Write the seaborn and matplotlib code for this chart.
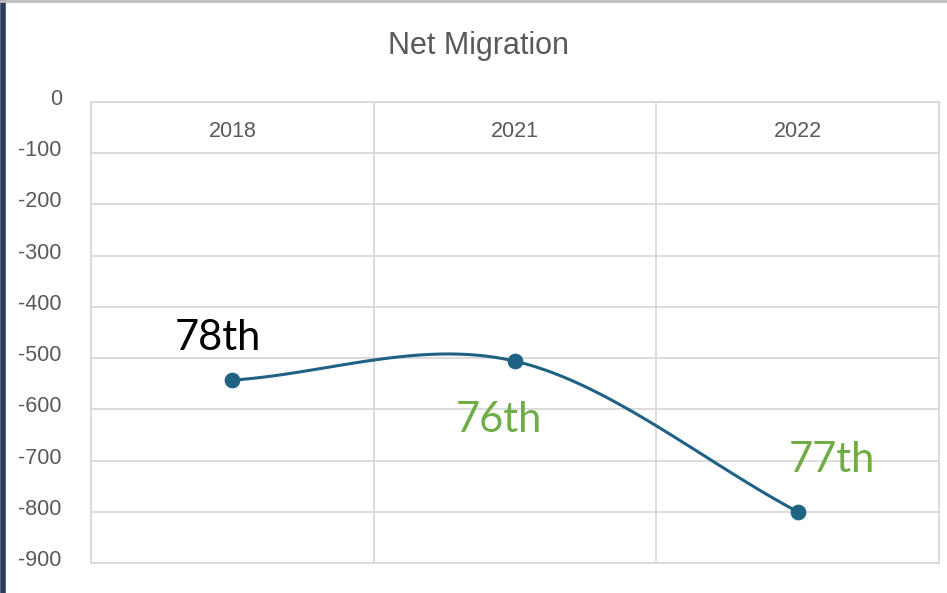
import numpy as np
import pandas as pd
import matplotlib
matplotlib.use('Agg')
import matplotlib.pyplot as plt
import matplotlib.transforms as mtransforms
from matplotlib.lines import Line2D
import seaborn as sns

# chart data
years = ['2018', '2021', '2022']
net_migration = [-543, -506, -800]
rank_labels = ['78th', '76th', '77th']
rank_colors = ['#000000', '#70AD47', '#70AD47']
y_ticks = [0, -100, -200, -300, -400, -500, -600, -700, -800, -900]

df = pd.DataFrame({'year': years, 'value': net_migration, 'pos': range(len(years))})

sns.set_style('white')
plt.rcParams['font.family'] = ['Liberation Sans Narrow', 'Liberation Sans', 'DejaVu Sans']

fig = plt.figure(figsize=(9.47, 5.93), dpi=100)
ax = fig.add_axes([0.0961, 0.0506, 0.8955, 0.7774])

line_col = '#1F6284'
grid_col = '#D9D9D9'
tick_col = '#595959'


# smoothed line like Excel's "smoothed line" option (Catmull-Rom through the points)
def smooth(xs, ys, n=60):
    xs = np.asarray(xs, float)
    ys = np.asarray(ys, float)
    out_x, out_y = [], []
    for i in range(len(xs) - 1):
        p0, p1 = ys[i], ys[i + 1]
        m0 = (ys[i + 1] - ys[i - 1]) / 2 if i > 0 else ys[i + 1] - ys[i]
        m1 = (ys[i + 2] - ys[i]) / 2 if i + 2 < len(ys) else ys[i + 1] - ys[i]
        t = np.linspace(0, 1, n)
        h00 = 2 * t**3 - 3 * t**2 + 1
        h10 = t**3 - 2 * t**2 + t
        h01 = -2 * t**3 + 3 * t**2
        h11 = t**3 - t**2
        out_x.append(xs[i] + t * (xs[i + 1] - xs[i]))
        out_y.append(h00 * p0 + h10 * m0 + h01 * p1 + h11 * m1)
    return np.concatenate(out_x), np.concatenate(out_y)


sx, sy = smooth(df['pos'], df['value'])
sns.lineplot(x=sx, y=sy, ax=ax, color=line_col, lw=2.2, sort=False, zorder=3)
sns.scatterplot(data=df, x='pos', y='value', ax=ax, color=line_col, s=110,
                edgecolor=line_col, zorder=4, legend=False)

# rank labels
offsets = [(-14, 42), (-16, -59), (34, 52)]
for (i, row), lab, col, (dx, dy) in zip(df.iterrows(), rank_labels, rank_colors, offsets):
    ax.annotate(lab, (row['pos'], row['value']), xytext=(dx, dy), textcoords='offset pixels',
                ha='center', va='center', fontsize=30, color=col, family=['Lato', 'DejaVu Sans'])

ax.set_xlim(-0.5, 2.5)
ax.set_ylim(-900, 0)
ax.set_yticks(y_ticks)
ax.set_yticklabels([str(v) for v in y_ticks])
ax.set_xticks(df['pos'])
ax.set_xticklabels(years)
ax.set_xticks([0.5, 1.5], minor=True)
ax.grid(axis='y', which='major', color=grid_col, lw=1.3)
ax.grid(axis='x', which='minor', color=grid_col, lw=1.3)
ax.set_xlabel('')
ax.set_ylabel('')

ax.tick_params(axis='x', which='both', top=False, bottom=False, labelbottom=False,
               labeltop=True, pad=-29, labelsize=15.5, labelcolor=tick_col, length=0)
ax.tick_params(axis='y', length=0, pad=21, labelsize=15.5, labelcolor=tick_col)
shift = mtransforms.ScaledTranslation(0, 5 / 100, fig.dpi_scale_trans)
for lbl in ax.get_yticklabels():
    lbl.set_transform(lbl.get_transform() + shift)

for sp in ax.spines.values():
    sp.set_color(grid_col)
    sp.set_linewidth(1.3)

fig.text(0.505, 0.922, 'Net Migration', ha='center', va='center', fontsize=22, color=tick_col)

# frame edges from the original screenshot
fig.add_artist(Line2D([0.003, 0.003], [0, 1], color='#2B3A5E', lw=4, transform=fig.transFigure))
fig.add_artist(Line2D([0, 1], [0.998, 0.998], color='#BFBFBF', lw=2, transform=fig.transFigure))

fig.savefig('out.png', dpi=100)
